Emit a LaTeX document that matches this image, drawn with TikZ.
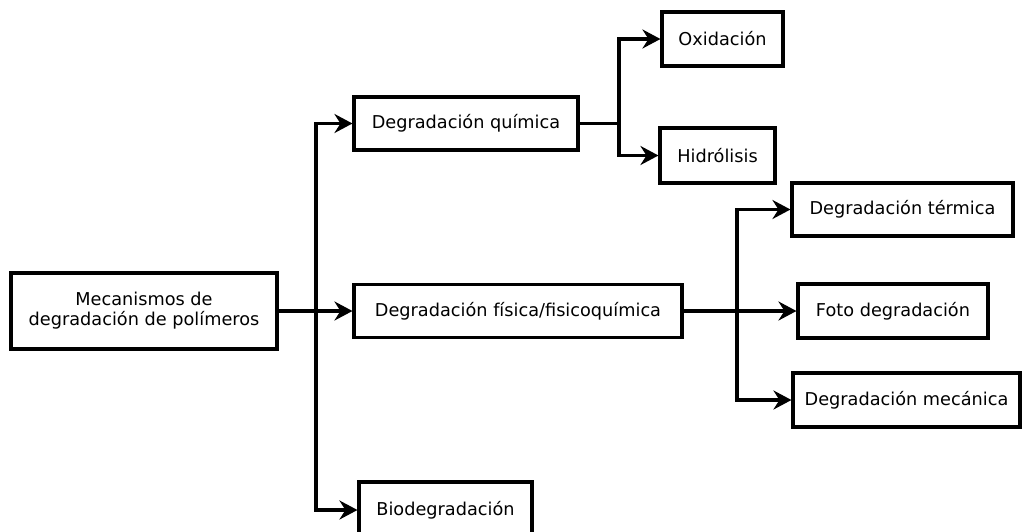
\documentclass[tikz,border=0pt]{standalone}
\usepackage{fontspec}
\setmainfont{DejaVu Sans}
\usetikzlibrary{arrows.meta}
\begin{document}
\begin{tikzpicture}[x=1pt,y=-1pt,
  box/.style={draw=black,line width=3.1pt,fill=white,inner sep=0pt,font=\fontsize{17.7}{21}\selectfont,align=center},
  conn/.style={line width=3.1pt,-{Stealth[length=18pt,width=19pt,inset=6pt]}},
  plain/.style={line width=3.1pt}]
\fill[white] (0,0) rectangle (1023,531);
\useasboundingbox (0,0) rectangle (1023,531);
\begin{scope}
\clip (0,0) rectangle (1023,531);
\node[box,minimum width=266pt,minimum height=76pt] (mec) at (144,311) {Mecanismos de\\[-1pt]degradación de polímeros};
\node[box,minimum width=224pt,minimum height=53pt] (quim) at (466,123.5) {Degradación química};
\node[box,minimum width=121pt,minimum height=54pt] (oxi) at (722.5,39) {Oxidación};
\node[box,minimum width=115pt,minimum height=55pt] (hid) at (717.5,155.5) {Hidrólisis};
\node[box,minimum width=328pt,minimum height=53pt] (fis) at (518,311) {Degradación física/fisicoquímica};
\node[box,minimum width=221pt,minimum height=53pt] (ter) at (902.5,209.5) {Degradación térmica};
\node[box,minimum width=190pt,minimum height=54pt] (foto) at (893,311) {Foto degradación};
\node[box,minimum width=227pt,minimum height=54pt] (mecan) at (906.5,400) {Degradación mecánica};
\node[box,minimum width=173pt,minimum height=56pt] (bio) at (445.5,510) {Biodegradación};
\end{scope}
\coordinate (j1) at (316,311);
\coordinate (j2) at (619,123.5);
\coordinate (j3) at (737,311);
\draw[conn] (mec.east) -- (fis.west);
\draw[conn] (j1) |- (quim.west);
\draw[conn] (j1) |- (bio.west);
\draw[plain] (quim.east) -- (j2);
\draw[conn] (j2) |- (oxi.west);
\draw[conn] (j2) |- (hid.west);
\draw[conn] (fis.east) -- (foto.west);
\draw[conn] (j3) |- (ter.west);
\draw[conn] (j3) |- (mecan.west);
\end{tikzpicture}
\end{document}
